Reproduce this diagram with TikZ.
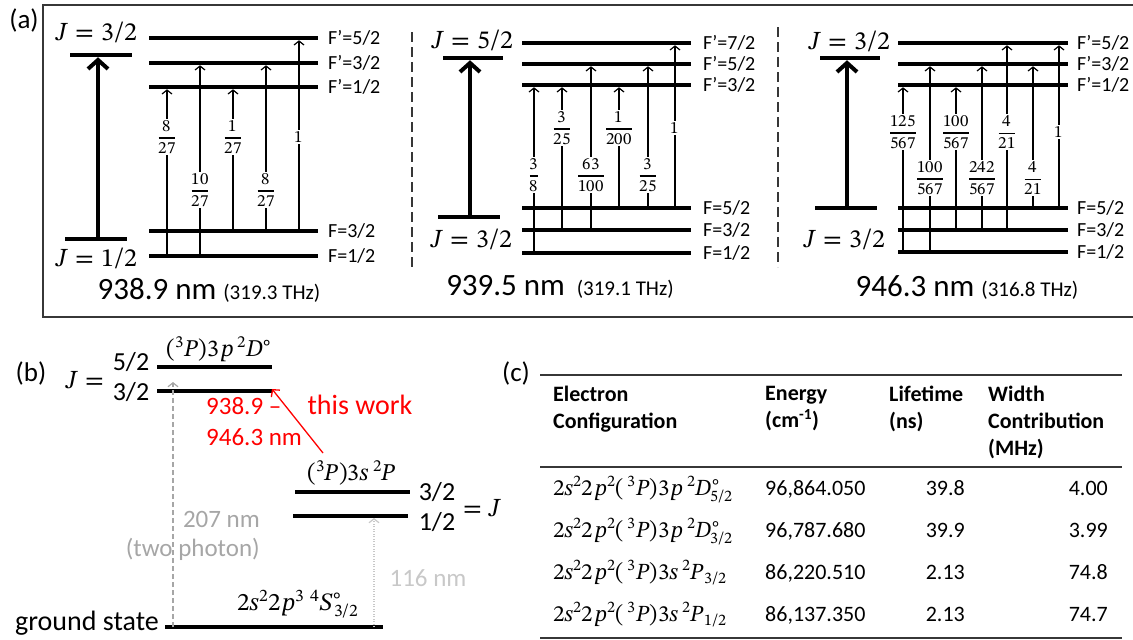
\documentclass[tikz,border=0pt]{standalone}
\usepackage{amsmath}
\usepackage{fontspec}
\usepackage{unicode-math}
\setmainfont{Carlito}
\IfFontExistsTF{STIX Two Math}{\setmathfont{STIX Two Math}}{\setmathfont{Latin Modern Math}}
\usetikzlibrary{arrows.meta}

\definecolor{framegray}{RGB}{55,55,55}
\definecolor{photongray}{RGB}{166,166,166}
\definecolor{vuvgray}{RGB}{200,200,200}
\definecolor{workred}{RGB}{255,0,0}

\begin{document}
\begin{tikzpicture}[x=1pt, y=-1pt,
    every node/.style={inner sep=1pt},
    lvl/.style={fill=black, inner sep=0pt, outer sep=0pt, minimum height=4.5pt},
    blvl/.style={lvl, minimum height=4pt},
    tr/.style={-{Straight Barb[length=4pt,width=10pt]}, line width=1.2pt},
    jarr/.style={-{Straight Barb[length=9pt,width=20pt]}, line width=4pt},
    fr/.style={fill=white, inner sep=1.5pt, font=\fontsize{17}{20}\selectfont},
    flab/.style={anchor=west, font=\fontsize{20}{24}\selectfont},
    jlab/.style={font=\fontsize{26}{30}\selectfont},
    wl/.style={font=\fontsize{31}{36}\selectfont},
    plab/.style={font=\fontsize{27}{32}\selectfont},
    sep/.style={draw=framegray, line width=1.3pt, dash pattern=on 10pt off 5pt},
    blab/.style={font=\fontsize{26}{30}\selectfont},
    term/.style={font=\fontsize{24}{28}\selectfont},
    hd/.style={anchor=north west, align=left, inner sep=0pt, font=\fontsize{22}{27}\selectfont\bfseries},
    cell/.style={inner sep=0pt, font=\fontsize{22}{26}\selectfont},
    rule/.style={draw=framegray, line width=2pt}]
  \useasboundingbox (0,0) rectangle (1133,640);

  % Panel (a): frame
  \draw[framegray, line width=2pt] (1136,5) -- (43,5) -- (43,317) -- (1136,317);
  \node[plab] (pa) at (24,20) {(a)};

  % 938.9 nm: fine structure
  \node[lvl, minimum width=62pt] (a1Jup) at (101,55) {};
  \node[lvl, minimum width=62pt] (a1Jlo) at (96,239) {};
  \draw[jarr] (98,0 |- a1Jlo) -- (98,0 |- a1Jup.south);
  \node[jlab] (a1Jupl) at (97,32) {$J = 3/2$};
  \node[jlab] (a1Jlol) at (97,258) {$J = 1/2$};
  % 938.9 nm: hyperfine levels
  \node[lvl, minimum width=169pt] (a1Fp5) at (233.5,38) {};
  \node[lvl, minimum width=169pt] (a1Fp3) at (233.5,63) {};
  \node[lvl, minimum width=169pt] (a1Fp1) at (233.5,87) {};
  \node[lvl, minimum width=169pt] (a1F3) at (233.5,231) {};
  \node[lvl, minimum width=169pt] (a1F1) at (233.5,256) {};
  \node[flab] (a1Fp5l) at (327,38) {F'=5/2};
  \node[flab] (a1Fp3l) at (327,63) {F'=3/2};
  \node[flab] (a1Fp1l) at (327,87) {F'=1/2};
  \node[flab] (a1F3l) at (327,231) {F=3/2};
  \node[flab] (a1F1l) at (327,256) {F=1/2};
  % 938.9 nm: transitions
  \draw[tr] (167,0 |- a1F1) -- (167,0 |- a1Fp1.south);
  \draw[tr] (200,0 |- a1F1) -- (200,0 |- a1Fp3.south);
  \draw[tr] (233,0 |- a1F3) -- (233,0 |- a1Fp1.south);
  \draw[tr] (266,0 |- a1F3) -- (266,0 |- a1Fp3.south);
  \draw[tr] (299,0 |- a1F3) -- (299,0 |- a1Fp5.south);
  \node[fr] (a1w1) at (167,137) {$\dfrac{8}{27}$};
  \node[fr] (a1w2) at (200,190) {$\dfrac{10}{27}$};
  \node[fr] (a1w3) at (233,137) {$\dfrac{1}{27}$};
  \node[fr] (a1w4) at (266,190) {$\dfrac{8}{27}$};
  \node[fr] (a1w5) at (299,137) {$1$};
  \node[wl] (a1wl) at (209,290) {938.9 nm {\fontsize{21}{24}\selectfont (319.3 THz)}};

  \draw[sep] (412,32) -- (412,267);

  % 939.5 nm: fine structure
  \node[lvl, minimum width=60pt] (a2Jup) at (473,58) {};
  \node[lvl, minimum width=62pt] (a2Jlo) at (469,217) {};
  \draw[jarr] (470,0 |- a2Jlo) -- (470,0 |- a2Jup.south);
  \node[jlab] (a2Jupl) at (473,40) {$J = 5/2$};
  \node[jlab] (a2Jlol) at (472,239) {$J = 3/2$};
  % 939.5 nm: hyperfine levels
  \node[lvl, minimum width=169pt] (a2Fp7) at (606.5,43) {};
  \node[lvl, minimum width=169pt] (a2Fp5) at (606.5,64) {};
  \node[lvl, minimum width=169pt] (a2Fp3) at (606.5,85) {};
  \node[lvl, minimum width=169pt] (a2F5) at (606.5,208) {};
  \node[lvl, minimum width=169pt] (a2F3) at (606.5,230) {};
  \node[lvl, minimum width=169pt] (a2F1) at (606.5,253) {};
  \node[flab] (a2Fp7l) at (702,43) {F'=7/2};
  \node[flab] (a2Fp5l) at (702,64) {F'=5/2};
  \node[flab] (a2Fp3l) at (702,85) {F'=3/2};
  \node[flab] (a2F5l) at (702,208) {F=5/2};
  \node[flab] (a2F3l) at (702,230) {F=3/2};
  \node[flab] (a2F1l) at (702,253) {F=1/2};
  % 939.5 nm: transitions
  \draw[tr] (534,0 |- a2F1) -- (534,0 |- a2Fp3.south);
  \draw[tr] (562,0 |- a2F3) -- (562,0 |- a2Fp3.south);
  \draw[tr] (591,0 |- a2F3) -- (591,0 |- a2Fp5.south);
  \draw[tr] (619,0 |- a2F5) -- (619,0 |- a2Fp3.south);
  \draw[tr] (648,0 |- a2F5) -- (648,0 |- a2Fp5.south);
  \draw[tr] (675,0 |- a2F5) -- (675,0 |- a2Fp7.south);
  \node[fr] (a2w1) at (534,175) {$\dfrac{3}{8}$};
  \node[fr] (a2w2) at (562,128) {$\dfrac{3}{25}$};
  \node[fr] (a2w3) at (591,175) {$\dfrac{63}{100}$};
  \node[fr] (a2w4) at (619,128) {$\dfrac{1}{200}$};
  \node[fr] (a2w5) at (648,175) {$\dfrac{3}{25}$};
  \node[fr] (a2w6) at (675,128) {$1$};
  \node[wl] (a2wl) at (560,287) {939.5 nm {\fontsize{21}{24}\selectfont\ (319.1 THz)}};

  \draw[sep] (778,27) -- (778,267);

  % 946.3 nm: fine structure
  \node[lvl, minimum width=60pt] (a3Jup) at (850,58) {};
  \node[lvl, minimum width=62pt] (a3Jlo) at (846,208) {};
  \draw[jarr] (847,0 |- a3Jlo) -- (847,0 |- a3Jup.south);
  \node[jlab] (a3Jupl) at (850,41) {$J = 3/2$};
  \node[jlab] (a3Jlol) at (845,239) {$J = 3/2$};
  % 946.3 nm: hyperfine levels
  \node[lvl, minimum width=170pt] (a3Fp5) at (983,43) {};
  \node[lvl, minimum width=170pt] (a3Fp3) at (983,64) {};
  \node[lvl, minimum width=170pt] (a3Fp1) at (983,85) {};
  \node[lvl, minimum width=170pt] (a3F5) at (983,208) {};
  \node[lvl, minimum width=170pt] (a3F3) at (983,230) {};
  \node[lvl, minimum width=170pt] (a3F1) at (983,252) {};
  \node[flab] (a3Fp5l) at (1076,43) {F'=5/2};
  \node[flab] (a3Fp3l) at (1076,64) {F'=3/2};
  \node[flab] (a3Fp1l) at (1076,85) {F'=1/2};
  \node[flab] (a3F5l) at (1076,208) {F=5/2};
  \node[flab] (a3F3l) at (1076,230) {F=3/2};
  \node[flab] (a3F1l) at (1076,252) {F=1/2};
  % 946.3 nm: transitions
  \draw[tr] (903,0 |- a3F1) -- (903,0 |- a3Fp1.south);
  \draw[tr] (930,0 |- a3F1) -- (930,0 |- a3Fp3.south);
  \draw[tr] (956,0 |- a3F3) -- (956,0 |- a3Fp1.south);
  \draw[tr] (982,0 |- a3F3) -- (982,0 |- a3Fp3.south);
  \draw[tr] (1007,0 |- a3F3) -- (1007,0 |- a3Fp5.south);
  \draw[tr] (1033,0 |- a3F5) -- (1033,0 |- a3Fp3.south);
  \draw[tr] (1059,0 |- a3F5) -- (1059,0 |- a3Fp5.south);
  \node[fr] (a3w1) at (903,132) {$\dfrac{125}{567}$};
  \node[fr] (a3w2) at (930,178) {$\dfrac{100}{567}$};
  \node[fr] (a3w3) at (956,132) {$\dfrac{100}{567}$};
  \node[fr] (a3w4) at (982,178) {$\dfrac{242}{567}$};
  \node[fr] (a3w5) at (1007,132) {$\dfrac{4}{21}$};
  \node[fr] (a3w6) at (1033,178) {$\dfrac{4}{21}$};
  \node[fr] (a3w7) at (1059,132) {$1$};
  \node[wl] (a3wl) at (967,287) {946.3 nm {\fontsize{21}{24}\selectfont (316.8 THz)}};

  % Panel (b): levels
  \node[plab] (pb) at (31,373) {(b)};
  \node[blab] (bJ) at (85,380) {$J =$};
  \node[blab] (bJ5) at (131,362) {5/2};
  \node[blab] (bJ3) at (131,392) {3/2};
  \node[blvl, minimum width=115pt] (bD5) at (214.5,367) {};
  \node[blvl, minimum width=115pt] (bD3) at (214.5,391) {};
  \node[term] (bDt) at (219,349) {$({}^3P)3p\,{}^2D^\circ$};
  \node[blvl, minimum width=115pt] (bP3) at (352.5,492) {};
  \node[blvl, minimum width=115pt] (bP1) at (350.5,516) {};
  \node[term] (bPt) at (352,473) {$({}^3P)3s\,{}^2P$};
  \node[blab] (bP3l) at (437,492) {3/2};
  \node[blab] (bP1l) at (437,522) {1/2};
  \node[blab] (bJr) at (482,508) {$= J$};
  \node[blvl, minimum width=218pt] (bG) at (274,627) {};
  \node[blab, font=\fontsize{28}{32}\selectfont] (bGl) at (87,623) {ground state};
  \node[term, font=\fontsize{25}{30}\selectfont] (bGt) at (298,604) {$2s^2 2p^3\ {}^4S^\circ_{3/2}$};
  % Panel (b): transitions
  \coordinate (bTP) at (173,382);
  \draw[photongray, line width=1.2pt, dash pattern=on 5pt off 3pt,
        -{Straight Barb[length=4pt,width=10pt]}] (173,0 |- bG) -- (bTP);
  \node[photongray, anchor=east, align=right, font=\fontsize{25}{29}\selectfont] (bTPl) at (261,536) {207 nm\\(two photon)};
  \draw[vuvgray, line width=1.2pt, dash pattern=on 1pt off 1.5pt,
        -{Straight Barb[length=4pt,width=10pt]}] (374,0 |- bG) -- (374,0 |- bP1.south);
  \node[vuvgray, font=\fontsize{25}{29}\selectfont] (bVl) at (428,578) {116 nm};
  \coordinate (bRs) at (323,453);
  \draw[workred, line width=1.3pt, -{Straight Barb[length=5pt,width=11pt]}] (bRs) -- (bD3.north east);
  \node[workred, anchor=west, align=left, font=\fontsize{25}{31}\selectfont] (bRl) at (205,422) {938.9 --\\946.3 nm};
  \node[workred, font=\fontsize{28}{32}\selectfont] (bRw) at (360,405) {this work};

  % Panel (c): table
  \node[plab] (pc) at (516,373) {(c)};
  \draw[rule] (540,375) -- (1122,375);
  \node[hd] (cH1) at (553,386) {Electron\\Configuration};
  \node[hd] (cH2) at (765,386) {Energy\\(cm\textsuperscript{-1})};
  \node[hd] (cH3) at (889,386) {Lifetime\\(ns)};
  \node[hd] (cH4) at (988,386) {Width\\Contribution\\(MHz)};
  \draw[rule, line width=1.5pt] (540,467) -- (1122,467);
  \node[cell, font=\fontsize{23}{28}\selectfont, anchor=base west] (cR1a) at (553,495) {$2s^2 2p^2(\,{}^3P)3p\,{}^2D^\circ_{5/2}$};
  \node[cell, anchor=base west] (cR1b) at (765,495) {96,864.050};
  \node[cell, anchor=base east] (cR1c) at (965,495) {39.8};
  \node[cell, anchor=base east] (cR1d) at (1108,495) {4.00};
  \node[cell, font=\fontsize{23}{28}\selectfont, anchor=base west] (cR2a) at (553,537) {$2s^2 2p^2(\,{}^3P)3p\,{}^2D^\circ_{3/2}$};
  \node[cell, anchor=base west] (cR2b) at (765,537) {96,787.680};
  \node[cell, anchor=base east] (cR2c) at (965,537) {39.9};
  \node[cell, anchor=base east] (cR2d) at (1108,537) {3.99};
  \node[cell, font=\fontsize{23}{28}\selectfont, anchor=base west] (cR3a) at (553,579) {$2s^2 2p^2(\,{}^3P)3s\,{}^2P{}_{3/2}$};
  \node[cell, anchor=base west] (cR3b) at (765,579) {86,220.510};
  \node[cell, anchor=base east] (cR3c) at (965,579) {2.13};
  \node[cell, anchor=base east] (cR3d) at (1108,579) {74.8};
  \node[cell, font=\fontsize{23}{28}\selectfont, anchor=base west] (cR4a) at (553,621) {$2s^2 2p^2(\,{}^3P)3s\,{}^2P{}_{1/2}$};
  \node[cell, anchor=base west] (cR4b) at (765,621) {86,137.350};
  \node[cell, anchor=base east] (cR4c) at (965,621) {2.13};
  \node[cell, anchor=base east] (cR4d) at (1108,621) {74.7};
  \draw[rule] (540,638) -- (1122,638);
\end{tikzpicture}
\end{document}
